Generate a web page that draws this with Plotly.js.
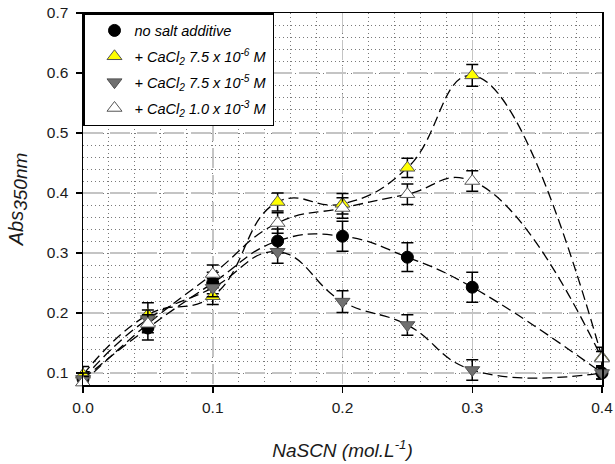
<!DOCTYPE html>
<html>
<head>
<meta charset="utf-8">
<script src="https://cdn.plot.ly/plotly-3.0.1.min.js"></script>
<style>html,body{margin:0;padding:0;background:#fff;}#chart{width:615px;height:464px;}</style>
</head>
<body>
<div id="chart"></div>
<script>
// NaSCN concentration (mol/L)
const conc = [0, 0.05, 0.1, 0.15, 0.2, 0.25, 0.3, 0.4];

const seriesNames = [
  'no salt additive',
  '+ CaCl<sub>2</sub> 7.5 x 10<sup>-6</sup> M',
  '+ CaCl<sub>2</sub> 7.5 x 10<sup>-5</sup> M',
  '+ CaCl<sub>2</sub> 1.0 x 10<sup>-3</sup> M'
];

const absNoSalt   = [0.090, 0.175, 0.250, 0.320, 0.328, 0.293, 0.243, 0.100];
const errNoSalt   = [0.012, 0.020, 0.018, 0.020, 0.025, 0.024, 0.025, 0.010];

const absCa6      = [0.097, 0.197, 0.228, 0.385, 0.382, 0.442, 0.596, 0.126];
const errCa6      = [0.014, 0.020, 0.014, 0.015, 0.017, 0.016, 0.018, 0.017];

const absCa5      = [0.090, 0.190, 0.242, 0.302, 0.219, 0.180, 0.105, 0.100];
const errCa5      = [0.010, 0.015, 0.015, 0.019, 0.018, 0.017, 0.017, 0.010];

const absCa3      = [0.084, 0.182, 0.265, 0.350, 0.375, 0.398, 0.420, 0.124];
const errCa3      = [0.010, 0.015, 0.015, 0.017, 0.017, 0.017, 0.017, 0.012];

const xTickVals = [0, 0.1, 0.2, 0.3, 0.4];
const yTickVals = [0.1, 0.2, 0.3, 0.4, 0.5, 0.6, 0.7];

const ys = [absNoSalt, absCa6, absCa5, absCa3];
const errs = [errNoSalt, errCa6, errCa5, errCa3];
const markers = [
  {symbol: 'circle', color: '#000000', size: 12, line: {color: '#000000', width: 1}},
  {symbol: 'triangle-up', color: '#ffff00', size: 13, line: {color: '#555555', width: 1}},
  {symbol: 'triangle-down', color: '#707070', size: 13, line: {color: '#505050', width: 1}},
  {symbol: 'triangle-up', color: '#ffffff', size: 13, line: {color: '#555555', width: 1}}
];

const traces = [];
ys.forEach(function (y) {
  traces.push({
    x: conc, y: y, type: 'scatter', mode: 'lines',
    line: {shape: 'spline', smoothing: 1.3, color: '#000000', width: 1.3, dash: '10px,5px'},
    showlegend: false, hoverinfo: 'skip', cliponaxis: false
  });
});
ys.forEach(function (y, i) {
  traces.push({
    x: conc, y: y, type: 'scatter', mode: 'markers', name: seriesNames[i],
    legendgroup: 'g' + i,
    marker: markers[i],
    error_y: {type: 'data', array: errs[i], visible: true, color: '#000000', thickness: 1.5, width: 6},
    cliponaxis: false
  });
});

const font = {family: 'Liberation Sans, Arial, sans-serif', color: '#1a1a1a'};

const layout = {
  width: 615, height: 464,
  margin: {l: 83, r: 13, t: 13, b: 79},
  paper_bgcolor: '#ffffff', plot_bgcolor: '#ffffff',
  font: {family: font.family, size: 15, color: '#1a1a1a'},
  showlegend: true,
  legend: {
    x: 0, y: 1, xanchor: 'left', yanchor: 'top',
    bgcolor: '#ffffff', bordercolor: '#000000', borderwidth: 1.5,
    font: {family: font.family, size: 14.5, style: 'italic', color: '#000000'},
    indentation: 10, traceorder: 'grouped', tracegroupgap: 4
  },
  xaxis: {
    range: [0, 0.4], tickvals: xTickVals, tickformat: '.1f',
    ticks: 'outside', ticklen: 6, tickwidth: 1.5, tickcolor: '#000',
    showline: true, linewidth: 1.5, linecolor: '#000', mirror: true,
    showgrid: true, gridcolor: '#c4c4c4', gridwidth: 1.5, griddash: '20px,7px',
    zeroline: false,
    minor: {dtick: 0.02, showgrid: true, gridcolor: '#7a7a7a', gridwidth: 1, griddash: '1px,3px', ticks: ''},
    tickfont: {family: font.family, size: 15.5, color: '#1a1a1a'},
    ticklabelstandoff: 2,
    title: {text: 'NaSCN (mol.L<sup>-1</sup>)', standoff: 28,
      font: {family: font.family, size: 19, style: 'italic', color: '#1a1a1a'}}
  },
  yaxis: {
    range: [0.08, 0.7], tickvals: yTickVals, tickformat: '.1f',
    ticks: 'outside', ticklen: 6, tickwidth: 1.5, tickcolor: '#000',
    showline: true, linewidth: 1.5, linecolor: '#000', mirror: true,
    showgrid: true, gridcolor: '#c4c4c4', gridwidth: 1.5, griddash: '20px,7px',
    zeroline: false,
    minor: {tick0: 0.1, dtick: 0.02, showgrid: true, gridcolor: '#7a7a7a', gridwidth: 1, griddash: '1px,3px', ticks: ''},
    tickfont: {family: font.family, size: 15.5, color: '#1a1a1a'},
    ticklabelstandoff: 4,
    title: {text: 'Abs<sub><span style="font-size:19px">350nm</span></sub>', standoff: 18,
      font: {family: font.family, size: 20, style: 'italic', color: '#1a1a1a'}}
  }
};

Plotly.newPlot('chart', traces, layout, {staticPlot: true, displayModeBar: false});
</script>
</body>
</html>
